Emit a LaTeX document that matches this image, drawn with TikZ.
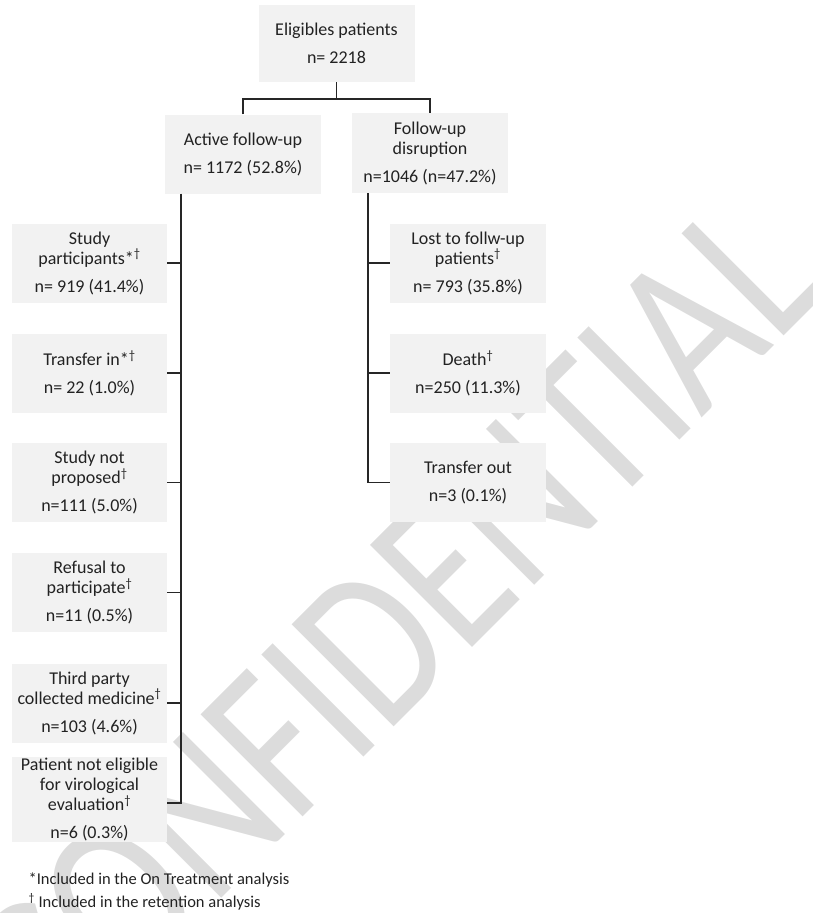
\documentclass[tikz,border=0pt]{standalone}
\usepackage{fontspec}
\setmainfont{Carlito}
\newcommand{\dagg}{\textsuperscript{†}}
\begin{document}
\begin{tikzpicture}[x=1pt,y=-1pt,
    box/.style={fill=boxgray,text=textgray,align=center,inner sep=0pt,
        minimum width=156pt,minimum height=79pt,font=\fontsize{18}{20}\selectfont},
    note/.style={anchor=west,text=textgray,font=\fontsize{16.5}{20}\selectfont},
    link/.style={draw=linegray,line width=1.9pt}]
        \definecolor{boxgray}{HTML}{F2F2F2}
        \definecolor{textgray}{HTML}{222222}
        \definecolor{linegray}{HTML}{262626}
        \definecolor{wmgray}{HTML}{DCDCDC}
        \useasboundingbox (0,0) rectangle (813,913);
        % watermark
        \node[rotate=45,text=wmgray,font=\fontsize{225}{225}\selectfont] (wm) at (394,624) {\scalebox{0.8}[1]{CONFIDENTIAL}};
        % top level
        \node[box,minimum height=77pt] (elig) at (336.5,43.5) {Eligibles patients\\[8pt]n= 2218};
        \node[box] (active) at (243,154) {Active follow-up\\[8pt]n= 1172 (52.8\%)};
        \node[box,minimum height=80pt] (disrupt) at (430,153) {Follow-up\\disruption\\[8pt]n=1046 (n=47.2\%)};
        % active follow-up
        \node[box,minimum width=155pt] (part) at (89.5,263) {Study\\participants*\dagg\\[8pt]n= 919 (41.4\%)};
        \node[box,minimum width=155pt] (trin) at (89.5,373) {Transfer in*\dagg\\[8pt]n= 22 (1.0\%)};
        \node[box,minimum width=155pt] (notprop) at (89.5,482.5) {Study not\\proposed\dagg\\[8pt]n=111 (5.0\%)};
        \node[box,minimum width=155pt] (refus) at (89.5,592.5) {Refusal to\\participate\dagg\\[8pt]n=11 (0.5\%)};
        \node[box,minimum width=155pt] (third) at (89.5,703) {Third party\\collected medicine\dagg\\[8pt]n=103 (4.6\%)};
        \node[box,minimum width=155pt,minimum height=85pt] (noteli) at (89.5,799.5) {Patient not eligible\\for virological\\evaluation\dagg\\[8pt]n=6 (0.3\%)};
        % follow-up disruption
        \node[box] (lost) at (468,263) {Lost to follw-up\\patients\dagg\\[8pt]n= 793 (35.8\%)};
        \node[box] (death) at (468,373) {Death\dagg\\[8pt]n=250 (11.3\%)};
        \node[box] (trout) at (468,482.5) {Transfer out\\[8pt]n=3 (0.1\%)};
        % connectors
        \coordinate (split) at (336.5,99);
        \coordinate (ltrunk) at (181,0);
        \coordinate (rtrunk) at (368,0);
        \draw[link] (elig.south) -- (split);
        \draw[link] (active.north) |- (split) -| (disrupt.north);
        \draw[link] (active.south -| ltrunk) -- (0,803 -| ltrunk) -- (167,803);
        \foreach \n in {part,trin,notprop,refus,third}
            \draw[link] (\n.east) -- (\n.east -| ltrunk);
        \draw[link] (disrupt.south -| rtrunk) |- (trout.west);
        \foreach \n in {lost,death}
            \draw[link] (\n.west) -- (\n.west -| rtrunk);
        % notes
        \node[note] (note1) at (25,880) {*Included in the On Treatment analysis};
        \node[note] (note2) at (25,902) {\dagg{} Included in the retention analysis};
    \end{tikzpicture}
\end{document}
